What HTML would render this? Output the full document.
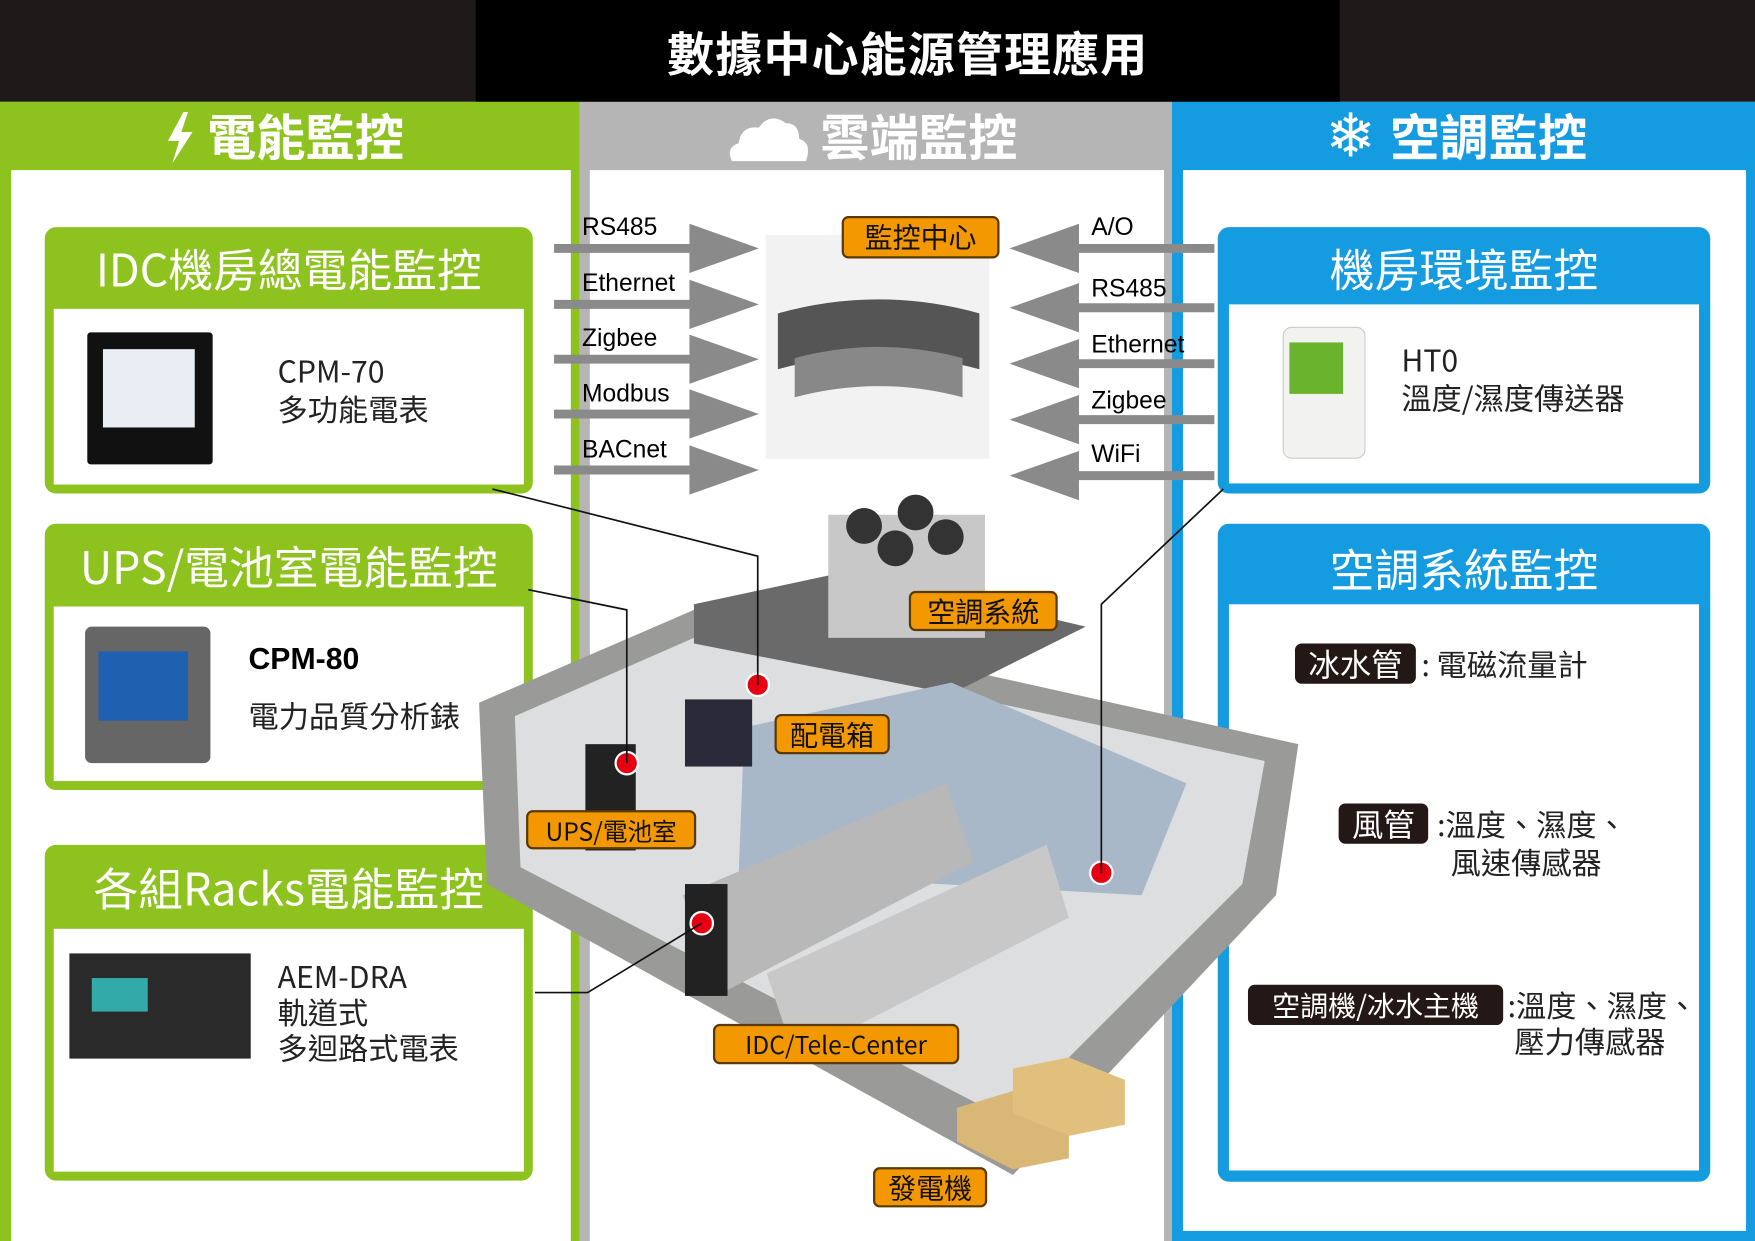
<!DOCTYPE html>
<html><head><meta charset="utf-8"><style>
*{margin:0;padding:0;box-sizing:border-box}
html,body{width:1755px;height:1241px;overflow:hidden;background:#fff}
#s{position:absolute;left:0;top:0;width:1568px;height:1109px;transform:scale(1.11926,1.11903);transform-origin:0 0;font-family:"Liberation Sans","Noto Sans CJK TC",sans-serif}
.a{position:absolute}
.cj{font-family:"Noto Sans CJK TC","Noto Sans CJK SC",sans-serif}
.hd{color:#fff;font-size:44px;font-weight:bold;white-space:nowrap}
.gb{position:absolute;background:#8dc21f;border-radius:10px}
.bb{position:absolute;background:#159be0;border-radius:10px}
.in{position:absolute;background:#fff}
.tt{position:absolute;color:#fff;font-size:40px;white-space:nowrap;text-align:center;left:0;right:0}
.pl{position:absolute;font-size:22px;color:#000}
.or{position:absolute;background:#f39800;border:2px solid #5a3a00;border-radius:6px;color:#111;font-size:25px;text-align:center;line-height:33px;white-space:nowrap}
.tx{position:absolute;font-size:27px;color:#222;white-space:nowrap;line-height:34px}
.dk{position:absolute;background:#231815;color:#fff;border-radius:6px;font-size:28px;text-align:center;line-height:36px;white-space:nowrap}
</style></head><body><div id="s">
<div class="a" style="left:0;top:0;width:1568px;height:91px;background:#1e1a19"></div>
<div class="a" style="left:425px;top:0;width:772px;height:91px;background:#000"></div>
<div class="a cj" style="left:425px;width:772px;top:16px;text-align:center;color:#fff;font-size:42px;font-weight:bold;letter-spacing:1px">數據中心能源管理應用</div>
<div class="a" style="left:0;top:91px;width:518px;height:1018px;background:#8dc21f"></div>
<div class="a" style="left:518px;top:91px;width:529px;height:1018px;background:#b5b5b5"></div>
<div class="a" style="left:1047px;top:91px;width:521px;height:1018px;background:#159be0"></div>
<div class="in" style="left:10px;top:152px;width:500px;height:957px"></div>
<div class="in" style="left:527px;top:152px;width:513px;height:957px"></div>
<div class="in" style="left:1057px;top:152px;width:503px;height:948px"></div>
<div class="a hd cj" style="left:185px;top:88px">電能監控</div>
<svg class="a" style="left:146px;top:100px" width="30" height="46"><path d="M18 0 L4 26 L14 26 L8 46 L26 18 L16 18 L22 0Z" fill="#fff"/></svg>
<div class="a hd cj" style="left:733px;top:88px">雲端監控</div>
<svg class="a" style="left:648px;top:100px" width="78" height="46"><path d="M6 44 Q0 32 12 28 Q14 12 30 14 Q40 0 54 10 Q66 10 66 24 Q78 28 72 44Z" fill="#fff"/></svg>
<div class="a hd cj" style="left:1242px;top:88px">空調監控</div>
<div class="a" style="left:1184px;top:90px;color:#fff;font-size:54px">❄</div>

<div class="gb" style="left:40px;top:203px;width:436px;height:238px"></div>
<div class="in" style="left:48px;top:276px;width:420px;height:157px"></div>
<div class="tt cj" style="left:40px;width:436px;top:210px">IDC機房總電能監控</div>
<div class="gb" style="left:40px;top:468px;width:436px;height:238px"></div>
<div class="in" style="left:48px;top:542px;width:420px;height:156px"></div>
<div class="tt cj" style="left:40px;width:436px;top:476px">UPS/電池室電能監控</div>
<div class="gb" style="left:40px;top:755px;width:436px;height:300px"></div>
<div class="in" style="left:48px;top:830px;width:420px;height:217px"></div>
<div class="tt cj" style="left:40px;width:436px;top:763px">各組Racks電能監控</div>

<div class="bb" style="left:1088px;top:203px;width:440px;height:238px"></div>
<div class="in" style="left:1098px;top:272px;width:420px;height:160px"></div>
<div class="tt cj" style="left:1088px;width:440px;top:210px">機房環境監控</div>
<div class="bb" style="left:1088px;top:468px;width:440px;height:588px"></div>
<div class="in" style="left:1098px;top:540px;width:420px;height:506px"></div>
<div class="tt cj" style="left:1088px;width:440px;top:478px">空調系統監控</div>

<!-- devices -->
<div class="a" style="left:78px;top:297px;width:112px;height:118px;background:#111;border-radius:3px"></div>
<div class="a" style="left:92px;top:312px;width:82px;height:70px;background:#e8eef4"></div>
<div class="a" style="left:76px;top:560px;width:112px;height:122px;background:#666;border-radius:6px"></div>
<div class="a" style="left:88px;top:582px;width:80px;height:62px;background:#2060b0"></div>
<div class="a" style="left:62px;top:852px;width:162px;height:94px;background:#2a2a2a"></div>
<div class="a" style="left:82px;top:874px;width:50px;height:30px;background:#3aa"></div>
<div class="a" style="left:1146px;top:292px;width:74px;height:118px;background:#f2f2f0;border:1px solid #ccc;border-radius:8px"></div>
<div class="a" style="left:1152px;top:306px;width:48px;height:46px;background:#6ab42d"></div>

<div class="tx cj" style="left:248px;top:314px">CPM-70<br>多功能電表</div>
<div class="a" style="left:222px;top:574px;font-size:27px;font-weight:bold">CPM-80</div>
<div class="tx cj" style="left:222px;top:622px">電力品質分析錶</div>
<div class="tx cj" style="left:248px;top:856px;line-height:32px">AEM-DRA<br>軌道式<br>多迴路式電表</div>
<div class="tx cj" style="left:1252px;top:304px">HT0<br>溫度/濕度傳送器</div>

<div class="dk cj" style="left:1157px;top:575px;width:108px">冰水管</div>
<div class="tx cj" style="left:1270px;top:576px">: 電磁流量計</div>
<div class="dk cj" style="left:1196px;top:718px;width:80px">風管</div>
<div class="tx cj" style="left:1284px;top:719px">:溫度、濕度、<br>&nbsp;&nbsp;風速傳感器</div>
<div class="dk cj" style="left:1115px;top:880px;width:228px;font-size:25px">空調機/冰水主機</div>
<div class="tx cj" style="left:1347px;top:882px;line-height:32px">:溫度、濕度、<br>&nbsp;壓力傳感器</div>

<!-- control center image -->
<div class="a" style="left:684px;top:210px;width:200px;height:200px;background:#f2f2f2"></div>
<svg class="a" style="left:690px;top:260px" width="190" height="100"><path d="M5 20 Q95 -5 185 20 L185 70 Q95 45 5 70Z" fill="#555"/><path d="M20 60 Q95 40 170 60 L170 95 Q95 75 20 95Z" fill="#888"/></svg>

<svg class="a" style="left:0;top:0" width="1568" height="1109">
<g stroke="#8a8a8a" stroke-width="8" fill="none">
<line x1="495" y1="222" x2="620" y2="222"/><line x1="495" y1="272" x2="620" y2="272"/><line x1="495" y1="321" x2="620" y2="321"/><line x1="495" y1="370" x2="620" y2="370"/><line x1="495" y1="420" x2="620" y2="420"/>
<line x1="1085" y1="222" x2="960" y2="222"/><line x1="1085" y1="275" x2="960" y2="275"/><line x1="1085" y1="325" x2="960" y2="325"/><line x1="1085" y1="375" x2="960" y2="375"/><line x1="1085" y1="425" x2="960" y2="425"/>
</g>
<g fill="#8a8a8a">
<path d="M616 200L678 222L616 244Z"/><path d="M616 250L678 272L616 294Z"/><path d="M616 299L678 321L616 343Z"/><path d="M616 348L678 370L616 392Z"/><path d="M616 398L678 420L616 442Z"/>
<path d="M964 200L902 222L964 244Z"/><path d="M964 253L902 275L964 297Z"/><path d="M964 303L902 325L964 347Z"/><path d="M964 353L902 375L964 397Z"/><path d="M964 403L902 425L964 447Z"/>
</g>
<!-- building -->
<path d="M428 628 L620 545 L1160 665 L1140 800 L905 1050 L435 790Z" fill="#9a9a98"/>
<path d="M460 640 L620 570 L1130 680 L1110 790 L900 1000 L465 775Z" fill="#dcdedf"/>
<path d="M620 540 L760 510 L970 560 L850 620 L620 575Z" fill="#6a6a6a"/>
<rect x="740" y="460" width="140" height="110" fill="#c8c8c8"/>
<circle cx="772" cy="470" r="16" fill="#333"/><circle cx="818" cy="458" r="16" fill="#333"/><circle cx="845" cy="480" r="16" fill="#333"/><circle cx="800" cy="490" r="16" fill="#333"/>
<path d="M665 650 L850 610 L1060 700 L1020 800 L660 780Z" fill="#a9b8c8"/>
<path d="M610 800 L845 700 L870 770 L640 890Z" fill="#b8b8b8"/>
<path d="M685 870 L935 755 L955 820 L710 945Z" fill="#c8c8c8"/>
<rect x="612" y="790" width="38" height="100" fill="#222"/>
<rect x="523" y="665" width="45" height="95" fill="#222"/>
<rect x="612" y="625" width="60" height="60" fill="#2a2a3a"/>
<path d="M855 990 L905 975 L955 995 L955 1035 L905 1045 L855 1020Z" fill="#d9b877"/>
<path d="M905 955 L955 945 L1005 965 L1005 1005 L955 1015 L905 995Z" fill="#e0c07c"/>
<g fill="#e60012" stroke="#fff" stroke-width="2"><circle cx="677" cy="612" r="10"/><circle cx="560" cy="682" r="10"/><circle cx="627" cy="825" r="10"/><circle cx="984" cy="780" r="10"/></g>
<g stroke="#111" stroke-width="1.5" fill="none">
<polyline points="440,437 677,497 677,612"/><polyline points="472,527 560,545 560,682"/><polyline points="478,887 525,887 627,825"/><polyline points="1093,437 984,540 984,780"/>
</g>
</svg>

<div class="pl" style="left:520px;top:190px">RS485</div>
<div class="pl" style="left:520px;top:240px">Ethernet</div>
<div class="pl" style="left:520px;top:289px">Zigbee</div>
<div class="pl" style="left:520px;top:339px">Modbus</div>
<div class="pl" style="left:520px;top:389px">BACnet</div>
<div class="pl" style="left:975px;top:190px">A/O</div>
<div class="pl" style="left:975px;top:245px">RS485</div>
<div class="pl" style="left:975px;top:295px">Ethernet</div>
<div class="pl" style="left:975px;top:345px">Zigbee</div>
<div class="pl" style="left:975px;top:393px">WiFi</div>

<div class="or cj" style="left:752px;top:193px;width:141px;height:38px">監控中心</div>
<div class="or cj" style="left:812px;top:528px;width:133px;height:36px">空調系統</div>
<div class="or cj" style="left:692px;top:638px;width:103px;height:36px">配電箱</div>
<div class="or cj" style="left:470px;top:724px;width:152px;height:35px;font-size:22px">UPS/電池室</div>
<div class="or cj" style="left:637px;top:915px;width:220px;height:36px;font-size:22px">IDC/Tele-Center</div>
<div class="or cj" style="left:780px;top:1043px;width:102px;height:36px">發電機</div>
</div></body></html>
